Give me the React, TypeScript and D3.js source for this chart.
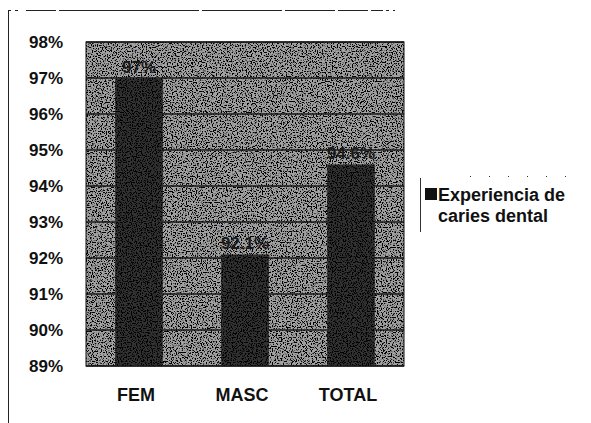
import React from "react";
import * as d3 from "d3";

const categories = ["FEM", "MASC", "TOTAL"];
const values = [97.0, 92.1, 94.6];
const valueLabels = ["97%", "92.1%", "94.6%"];
const yTicks = [89, 90, 91, 92, 93, 94, 95, 96, 97, 98];
const seriesName = ["Experiencia de", "caries dental"];

const W = 591;
const H = 423;
const plot = { left: 86, right: 404, top: 42, bottom: 366 };
const FONT = "'Liberation Sans', Arial, Helvetica, sans-serif";

export default function App() {
  const x = d3
    .scaleBand<string>()
    .domain(categories)
    .range([plot.left, plot.right])
    .paddingInner(0.55)
    .paddingOuter(0.275);
  const y = d3.scaleLinear().domain([89, 98]).range([plot.bottom, plot.top]);

  return (
    <svg
      width={W}
      height={H}
      style={{ position: "absolute", left: 0, top: 0, background: "#fff" }}
    >
      <defs>
        <filter id="dither" x="0" y="0" width="100%" height="100%">
          <feTurbulence type="fractalNoise" baseFrequency="0.8" numOctaves="1" seed="3" result="n" />
          <feColorMatrix
            in="n"
            type="matrix"
            values="0 0 0 0 0  0 0 0 0 0  0 0 0 0 0  0 0 0 -9 4.6"
            result="dots"
          />
          <feComposite in="dots" in2="SourceGraphic" operator="in" result="d2" />
          <feMerge>
            <feMergeNode in="SourceGraphic" />
            <feMergeNode in="d2" />
          </feMerge>
        </filter>
      </defs>
      {/* chart frame (partially visible in scan) */}
      <line x1={8.5} x2={8.5} y1={10} y2={H} stroke="#222" strokeWidth={1} />
      <line x1={8} x2={395} y1={10.5} y2={10.5} stroke="#222" strokeWidth={1} strokeDasharray="3 4 3 8 30 3 140 3 80 3 50 3 30 3 12 3" />

      {/* plot area */}
      <rect
        x={plot.left}
        y={plot.top}
        width={plot.right - plot.left}
        height={plot.bottom - plot.top}
        fill="#a2a2a2"
        filter="url(#dither)"
      />
      {yTicks.map((t) => (
        <line
          key={t}
          x1={plot.left}
          x2={plot.right}
          y1={y(t)}
          y2={y(t)}
          stroke="#1a1a1a"
          strokeWidth={1.5}
        />
      ))}
      {categories.map((c, i) => (
        <rect
          key={c}
          x={x(c)}
          y={y(values[i])}
          width={x.bandwidth()}
          height={y(89) - y(values[i])}
          fill="#333"
          filter="url(#dither)"
        />
      ))}
      {categories.map((c, i) => (
        <text
          key={"l" + c}
          x={(x(c) as number) + x.bandwidth() / 2}
          y={y(values[i]) - 5}
          textAnchor="middle"
          fontFamily={FONT}
          fontWeight="bold"
          fontSize={17}
          fill="#1a1a1a"
        >
          {valueLabels[i]}
        </text>
      ))}
      <rect
        x={plot.left}
        y={plot.top}
        width={plot.right - plot.left}
        height={plot.bottom - plot.top}
        fill="none"
        stroke="#111"
        strokeWidth={1}
      />

      {/* y axis labels */}
      {yTicks.map((t) => (
        <text
          key={"y" + t}
          x={63}
          y={y(t)}
          dy="0.36em"
          textAnchor="end"
          fontFamily={FONT}
          fontWeight="bold"
          fontSize={17}
          fill="#111"
        >
          {t + "%"}
        </text>
      ))}

      {/* x axis labels */}
      {categories.map((c) => (
        <text
          key={"x" + c}
          x={(x(c) as number) + x.bandwidth() / 2 - 3}
          y={401}
          textAnchor="middle"
          fontFamily={FONT}
          fontWeight="bold"
          fontSize={18}
          fill="#111"
        >
          {c}
        </text>
      ))}

      {/* legend */}
      <line x1={420.5} x2={420.5} y1={178} y2={232} stroke="#333" strokeWidth={1} />
      <line x1={470} x2={575} y1={176.5} y2={176.5} stroke="#333" strokeWidth={1} strokeDasharray="1 18" />
      <rect x={425} y={188} width={12} height={12} fill="#111" />
      <text x={438} y={201} fontFamily={FONT} fontWeight="bold" fontSize={18} fill="#111">
        {seriesName[0]}
      </text>
      <text x={438} y={222} fontFamily={FONT} fontWeight="bold" fontSize={18} fill="#111">
        {seriesName[1]}
      </text>
    </svg>
  );
}
